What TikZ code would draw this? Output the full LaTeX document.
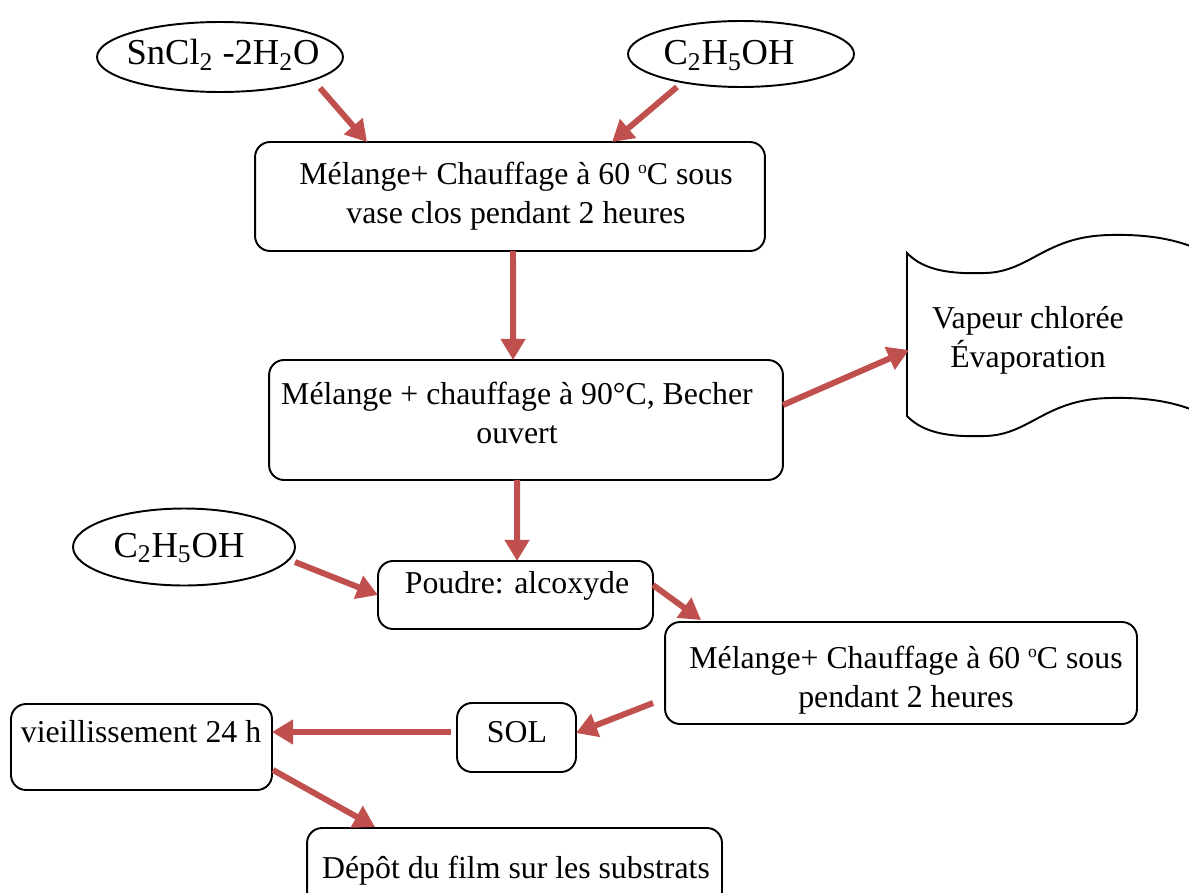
\documentclass[tikz,border=0pt]{standalone}
\usepackage{fontspec}
\setmainfont{Liberation Serif}
\usetikzlibrary{arrows.meta,shapes.geometric,calc}
\definecolor{flowred}{RGB}{192,80,77}
% small raised "o" used as degree mark
\newcommand{\dego}{\raisebox{6.3pt}{\fontsize{10}{10}\selectfont o}}

\begin{document}
\begin{tikzpicture}[x=0.02cm,y=-0.02cm,
  every node/.style={inner sep=0pt,outer sep=0pt},
  box/.style={draw=black,line width=1.1pt,rounded corners=0.3cm,rectangle},
  oval/.style={draw=black,line width=1.1pt,ellipse},
  txt/.style={font=\fontsize{18.1}{21.8}\selectfont,align=center,anchor=base},
  chem/.style={font=\fontsize{20.8}{24}\selectfont,anchor=base},
  flow/.style={draw=flowred,line width=3.4pt,
    -{Triangle[length=12pt,width=13.5pt]}},
]
\useasboundingbox (0,0) rectangle (1189,892);
\begin{scope}
\clip (0,0) rectangle (1189,892);

% reagents
\node[oval,minimum width=4.92cm,minimum height=1.4cm] (e1) at (220,57) {};
\node[chem] (t1) at (223,65) {SnCl\textsubscript{2} -2H\textsubscript{2}O};
\node[oval,minimum width=4.52cm,minimum height=1.32cm] (e2) at (741,54) {};
\node[chem] (t2) at (729,65) {C\textsubscript{2}H\textsubscript{5}OH};
\node[oval,minimum width=4.44cm,minimum height=1.54cm] (e3) at (184,547) {};
\node[chem] (t3) at (179,557) {C\textsubscript{2}H\textsubscript{5}OH};

% process steps (two-line labels are placed by their last baseline)
\node[box,minimum width=10.2cm,minimum height=2.18cm] (b1) at (510,196.5) {};
\node[txt] (t4) at (516,223) {Mélange+ Chauffage à 60 \dego C sous\\vase clos pendant 2 heures};
\node[box,minimum width=10.28cm,minimum height=2.4cm] (b2) at (526,420) {};
\node[txt] (t5) at (517,443) {Mélange + chauffage à 90°C, Becher\\ouvert};
\node[box,minimum width=5.5cm,minimum height=1.36cm] (b3) at (515.5,595) {};
\node[txt] (t7) at (517,593) {Poudre: alcoxyde};
\node[box,minimum width=9.44cm,minimum height=2.04cm] (b4) at (901,673) {};
\node[txt] (t8) at (906,707) {Mélange+ Chauffage à 60 \dego C sous\\pendant 2 heures};
\node[box,minimum width=2.38cm,minimum height=1.38cm] (b5) at (516.5,737.5) {};
\node[txt] (t9) at (517,742) {SOL};
\node[box,minimum width=5.22cm,minimum height=1.72cm] (b6) at (141.5,747) {};
\node[txt] (t10) at (141,742) {vieillissement 24 h};
\node[box,minimum width=8.3cm,minimum height=1.8cm] (b7) at (514.5,873) {};
\node[txt] (t11) at (516,878) {Dépôt du film sur les substrats};

% waved sheet for the released vapour
\draw[line width=1.1pt] (1200,250) .. controls (1178,240) and (1150,234) .. (1110,235)
  .. controls (1045,236) and (1030,272) .. (985,273)
  .. controls (955,274) and (925,272) .. (907,253) -- (907,416)
  .. controls (925,435) and (955,437) .. (985,436)
  .. controls (1030,435) and (1045,399) .. (1110,398)
  .. controls (1150,397) and (1178,403) .. (1200,413);
\node[txt] (t6) at (1028,367) {Vapeur chlorée\\Évaporation};
\coordinate (wv) at (909,350);

% flow arrows
\draw[flow] ($(e1.center)+(100,31)$) -- ($(b1.north west)+(112,0)$);
\draw[flow] ($(e2.center)+(-64,33)$) -- ($(b1.north west)+(357,0)$);
\draw[flow] ($(b1.south)+(3,0)$) -- ($(b2.north west)+(244,0)$);
\draw[flow] ($(b2.east)+(0,-15)$) -- (wv);
\draw[flow] ($(b2.south west)+(248,0)$) -- ($(b3.north west)+(139,0)$);
\draw[flow] ($(e3.center)+(111,15)$) -- ($(b3.north west)+(0,34)$);
\draw[flow] ($(b3.north east)+(0,24)$) -- ($(b4.north west)+(36,-2)$);
\draw[flow] ($(b4.south west)+(-12,-21)$) -- ($(b5.north east)+(0,30)$);
\draw[flow] ($(b5.west)+(-6,-5.5)$) -- ($(b6.east)+(0,-15)$);
\draw[flow] ($(b6.south east)+(1,-20)$) -- ($(b7.north west)+(68,-1)$);
\end{scope}
\end{tikzpicture}
\end{document}
